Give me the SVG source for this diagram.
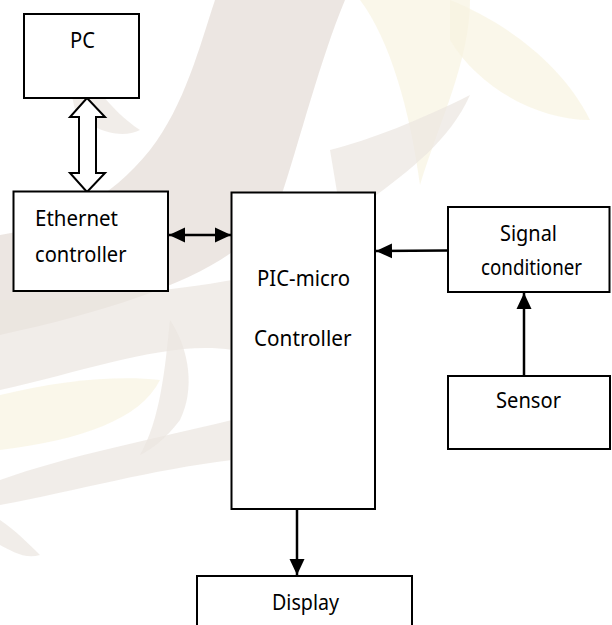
<svg xmlns="http://www.w3.org/2000/svg" width="612" height="625" viewBox="0 0 612 625">
  <style>
    .box { fill: #ffffff; stroke: #000000; stroke-width: 2; }
    .lbl { font-family: "Noto Sans", "Open Sans", "Liberation Sans", sans-serif; font-size: 22.5px; fill: #000000; }
    .wire { stroke: #000000; stroke-width: 2.5; fill: none; }
    .leafA { fill: #e4dcd5; opacity: 0.7; }
    .leafB { fill: #f8f2df; opacity: 0.65; }
    .leafC { fill: #ebe5e0; opacity: 0.7; }
  </style>
  <defs>
    <marker id="head" viewBox="0 0 16 16" markerWidth="16" markerHeight="16" refX="16" refY="8" orient="auto-start-reverse" markerUnits="userSpaceOnUse">
      <path d="M0,0.5 L16,8 L0,15.5 Z" fill="#000000"/>
    </marker>
  </defs>

  <rect width="612" height="625" fill="#ffffff"/>

  <!-- faint background foliage -->
  <g id="backdrop">
    <path class="leafB" d="M360,0 C390,40 410,110 420,185 C440,120 470,60 470,0 Z"/>
    <path class="leafB" d="M450,0 C500,20 560,60 590,120 C540,120 480,90 450,40 Z"/>
    <path class="leafA" d="M215,0 L345,0 C320,60 300,140 280,200 C250,260 160,300 0,335 L0,235 C60,225 110,200 150,150 C185,105 200,45 215,0 Z"/>
    <path class="leafC" d="M330,150 C370,140 420,120 470,95 C450,140 410,170 370,200 L340,210 Z"/>
    <path class="leafC" d="M0,300 C80,300 180,290 232,280 L232,350 C170,340 90,370 0,390 Z"/>
    <path class="leafC" d="M0,480 C70,455 150,440 232,420 L232,460 C150,470 80,490 0,505 Z"/>
    <path class="leafC" d="M170,320 C190,350 195,390 180,420 C165,440 150,450 140,455 C160,420 165,370 170,320 Z"/>
    <path class="leafC" d="M0,520 C15,530 30,545 40,555 C25,560 10,550 0,545 Z"/>
    <path class="leafB" d="M0,395 C60,380 120,375 160,380 C140,420 80,440 0,450 Z"/>
    <path class="leafC" d="M60,40 C90,80 110,110 140,130 C120,140 90,130 75,110 Z" opacity="0.4"/>
  </g>

  <!-- connectors -->
  <g id="connectors">
    <path d="M87,98 L105,117 L96,117 L96,173 L105,173 L87,192 L70,173 L79,173 L79,117 L70,117 Z" fill="#ffffff" stroke="#000000" stroke-width="2" stroke-linejoin="miter"/>
    <line class="wire" x1="169" y1="235" x2="231" y2="235" marker-start="url(#head)" marker-end="url(#head)"/>
    <line class="wire" x1="448" y1="250.5" x2="376" y2="251" marker-end="url(#head)"/>
    <line class="wire" x1="524" y1="376" x2="524" y2="293" marker-end="url(#head)"/>
    <line class="wire" x1="297" y1="509" x2="297" y2="575" marker-end="url(#head)"/>
  </g>

  <!-- nodes -->
  <g id="pc">
    <rect class="box" x="24" y="14" width="115" height="84"/>
    <text class="lbl" x="70" y="48" textLength="25" lengthAdjust="spacingAndGlyphs">PC</text>
  </g>

  <g id="ethernet">
    <rect class="box" x="13.5" y="191.5" width="154.5" height="99.5"/>
    <text class="lbl" x="35" y="226" textLength="83" lengthAdjust="spacingAndGlyphs">Ethernet</text>
    <text class="lbl" x="35" y="262" textLength="91.5" lengthAdjust="spacingAndGlyphs">controller</text>
  </g>

  <g id="pic">
    <rect class="box" x="231.5" y="192.5" width="143.5" height="316.5"/>
    <text class="lbl" x="257" y="286" textLength="93" lengthAdjust="spacingAndGlyphs">PIC-micro</text>
    <text class="lbl" x="254" y="346" textLength="97.5" lengthAdjust="spacingAndGlyphs">Controller</text>
  </g>

  <g id="signal">
    <rect class="box" x="448" y="207" width="161.5" height="85"/>
    <text class="lbl" x="500" y="240.5" textLength="57" lengthAdjust="spacingAndGlyphs">Signal</text>
    <text class="lbl" x="481" y="274.5" textLength="101" lengthAdjust="spacingAndGlyphs">conditioner</text>
  </g>

  <g id="sensor">
    <rect class="box" x="448" y="376" width="162" height="73"/>
    <text class="lbl" x="496" y="407.5" textLength="65" lengthAdjust="spacingAndGlyphs">Sensor</text>
  </g>

  <g id="display">
    <rect class="box" x="197" y="576" width="215" height="70"/>
    <text class="lbl" x="272" y="610" textLength="67" lengthAdjust="spacingAndGlyphs">Display</text>
  </g>
</svg>
